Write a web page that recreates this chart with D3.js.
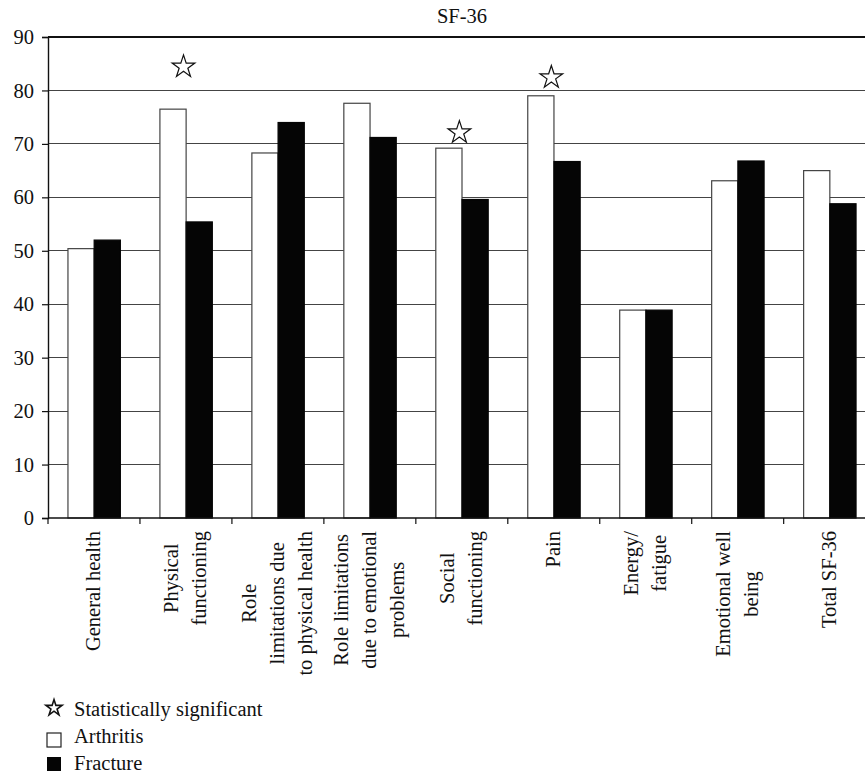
<!DOCTYPE html>
<html><head><meta charset="utf-8">
<script src="https://cdn.jsdelivr.net/npm/d3@7/dist/d3.min.js"></script>
<style>
body{margin:0;background:#fff;}
text{font-family:"Liberation Serif","Times New Roman",serif;fill:#111;}
</style></head>
<body><svg id="c" width="865" height="773"></svg>
<script>
const categories = ["General health","Physical functioning","Role limitations due to physical health","Role limitations due to emotional problems","Social functioning","Pain","Energy/ fatigue","Emotional well being","Total SF-36"];
const labelLines = [["General health"],["Physical","functioning"],["Role","limitations due","to physical health"],["Role limitations","due to emotional","problems"],["Social","functioning"],["Pain"],["Energy/","fatigue"],["Emotional well","being"],["Total SF-36"]];
const series = ["Arthritis","Fracture"];
const arthritis = [50.4, 76.5, 68.3, 77.6, 69.2, 79.0, 38.9, 63.1, 65.0];
const fracture = [52.0, 55.4, 74.0, 71.2, 59.6, 66.7, 38.9, 66.8, 58.8];
const significant = [{cat:"Physical functioning", value:84.8},{cat:"Social functioning", value:72.5},{cat:"Pain", value:82.8}];
const yTicks = [0,10,20,30,40,50,60,70,80,90];
const title = "SF-36";
const legendItems = ["Statistically significant","Arthritis","Fracture"];

(function(){
const svg = d3.select("#c");
const mLeft = 48, mRight = 876, mTop = 37, mBottom = 518;
const fs = 20.5;

const y = d3.scaleLinear().domain([0,90]).range([mBottom, mTop]);
const x0 = d3.scaleBand().domain(categories).range([mLeft, mRight]).paddingInner(0.43).paddingOuter(0.217);
const x1 = d3.scaleBand().domain(series).range([0, x0.bandwidth()]);
const fills = {Arthritis:"#ffffff", Fracture:"#050505"};
const strokes = {Arthritis:"#444", Fracture:"#050505"};

svg.append("g").selectAll("line").data(yTicks.filter(d=>d>0)).join("line")
  .attr("x1", mLeft).attr("x2", mRight).attr("y1", d=>y(d)).attr("y2", d=>y(d))
  .attr("stroke", d=> d===90 ? "#111" : "#444").attr("stroke-width", 1.2).attr("shape-rendering","crispEdges");

svg.append("text").attr("x", (mLeft+mRight)/2).attr("y", 23).attr("text-anchor","middle")
  .style("font-size", fs+"px").text(title);

const data = categories.map((c,i)=>({cat:c, vals:[{s:"Arthritis", v:arthritis[i]},{s:"Fracture", v:fracture[i]}]}));
const g = svg.append("g").selectAll("g").data(data).join("g").attr("transform", d=>`translate(${x0(d.cat)},0)`);
g.selectAll("rect").data(d=>d.vals).join("rect")
  .attr("x", d=>x1(d.s)).attr("width", x1.bandwidth())
  .attr("y", d=>y(d.v)).attr("height", d=>y(0)-y(d.v))
  .attr("fill", d=>fills[d.s]).attr("stroke", d=>strokes[d.s]).attr("stroke-width", 1.2);

const star = d3.symbol().type(d3.symbolStar).size(160);
svg.append("g").selectAll("path").data(significant).join("path")
  .attr("d", star)
  .attr("transform", d=>`translate(${x0(d.cat)+x0.bandwidth()*0.45},${y(d.value)+2})`)
  .attr("fill","#fff").attr("stroke","#111").attr("stroke-width",1.2);

const ya = svg.append("g").attr("transform",`translate(${mLeft},0)`)
  .call(d3.axisLeft(y).tickValues(yTicks).tickSize(6).tickPadding(8));
ya.select(".domain").attr("stroke","#111").attr("stroke-width",1.4);
ya.selectAll(".tick line").attr("stroke","#111").attr("stroke-width",1.2);
ya.selectAll(".tick text").style("font-size", fs+"px").style("font-family","Liberation Serif, serif").attr("fill","#111");

svg.append("line").attr("x1", mLeft).attr("x2", mRight).attr("y1", y(0)).attr("y2", y(0)).attr("stroke","#111").attr("stroke-width",1.6);
const step = x0.step();
const off = x0.paddingOuter()*step;
svg.append("g").selectAll("line").data(categories.concat(["end"])).join("line")
  .attr("x1",(d,i)=>x0(categories[0]) - off + i*step).attr("x2",(d,i)=>x0(categories[0]) - off + i*step)
  .attr("y1", y(0)).attr("y2", y(0)+6).attr("stroke","#111").attr("stroke-width",1.2);

const lh = 28;
const lg = svg.append("g").selectAll("g").data(categories).join("g");
lg.each(function(c,i){
  const sel = d3.select(this);
  const lines = labelLines[i];
  const cx = x0(c) + x0.bandwidth()/2;
  const texts = sel.selectAll("text").data(lines).join("text")
    .style("font-size", fs+"px").attr("text-anchor","middle").attr("dominant-baseline","central").text(d=>d);
  let maxW = 0;
  texts.each(function(){ maxW = Math.max(maxW, this.getComputedTextLength()); });
  const yTop = y(0) + 13;
  texts.attr("transform",(d,j)=>`translate(${cx + (j-(lines.length-1)/2)*lh - 1},${yTop + maxW/2}) rotate(-90)`);
});

const leg = svg.append("g");
const lx = 47, ly = [716, 743, 770];
leg.append("path").attr("d", d3.symbol().type(d3.symbolStar).size(80))
  .attr("transform",`translate(${lx+7},${ly[0]-8})`).attr("fill","#fff").attr("stroke","#111").attr("stroke-width",1.6);
leg.append("rect").attr("x",lx).attr("y",ly[1]-10).attr("width",14).attr("height",14).attr("fill","#fff").attr("stroke","#222").attr("stroke-width",1.2);
leg.append("rect").attr("x",lx).attr("y",ly[2]-13).attr("width",14).attr("height",14).attr("fill","#050505");
leg.selectAll("text").data(legendItems).join("text").attr("x",74).attr("y",(d,i)=>ly[i]).style("font-size",fs+"px").text(d=>d);
})();
</script></body></html>
